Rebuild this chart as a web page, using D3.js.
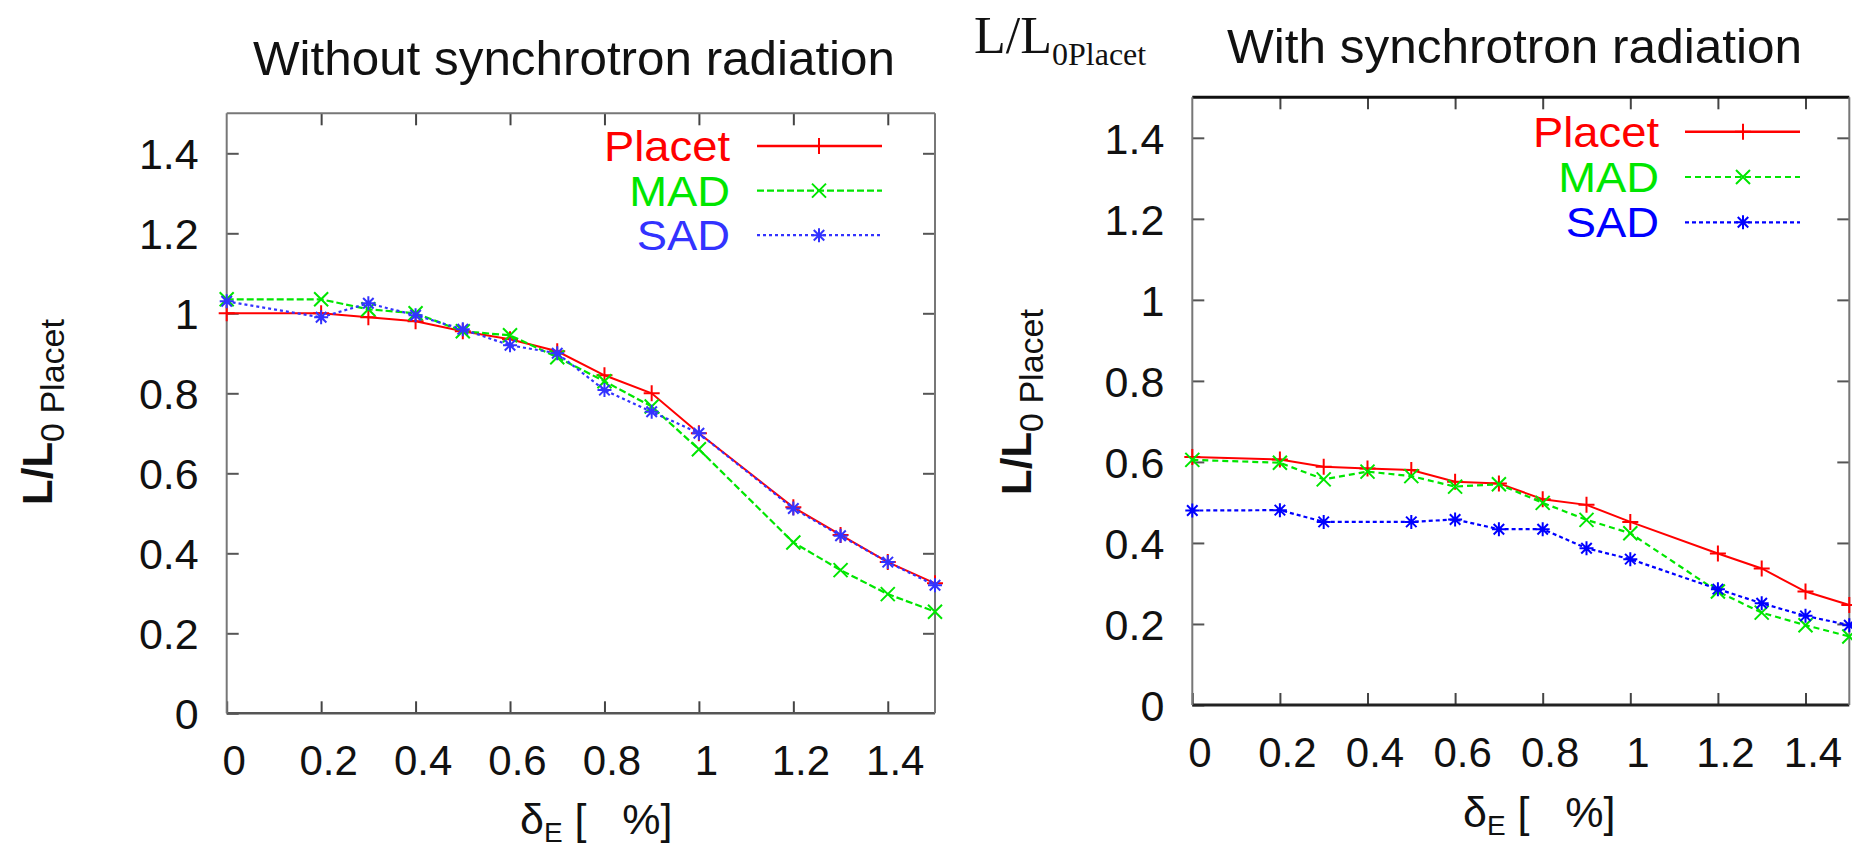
<!DOCTYPE html>
<html>
<head>
<meta charset="utf-8">
<script src="https://cdn.jsdelivr.net/npm/d3@7"></script>
<style>
  body { margin: 0; background: #fff; }
  svg { display: block; font-family: "Liberation Sans", Arial, sans-serif; }
</style>
</head>
<body>
<svg id="chart"></svg>
<script>
/// DATA ///
const deltaE = [0, 0.2, 0.3, 0.4, 0.5, 0.6, 0.7, 0.8, 0.9, 1.0, 1.2, 1.3, 1.4, 1.5];
const seriesNames = ["Placet", "MAD", "SAD"];

// without synchrotron radiation
const noSrPlacet = [1.0, 1.0, 0.99, 0.98, 0.955, 0.935, 0.905, 0.845, 0.80, 0.70, 0.515, 0.446, 0.378, 0.325];
const noSrMad    = [1.035, 1.035, 1.01, 1.0, 0.955, 0.945, 0.89, 0.83, 0.767, 0.66, 0.427, 0.358, 0.298, 0.254];
const noSrSad    = [1.03, 0.99, 1.025, 0.995, 0.96, 0.92, 0.90, 0.808, 0.754, 0.70, 0.512, 0.444, 0.378, 0.32];

// with synchrotron radiation (SAD has no point at 0.4)
const srPlacet = [0.612, 0.606, 0.588, 0.584, 0.58, 0.551, 0.547, 0.508, 0.494, 0.452, 0.374, 0.337, 0.28, 0.247];
const srMad    = [0.605, 0.598, 0.557, 0.576, 0.565, 0.539, 0.545, 0.499, 0.457, 0.424, 0.28, 0.228, 0.197, 0.169];
const srSad    = [0.48, 0.481, 0.452, null, 0.452, 0.458, 0.434, 0.434, 0.387, 0.36, 0.286, 0.251, 0.22, 0.197];

const xTicks = [0, 0.2, 0.4, 0.6, 0.8, 1.0, 1.2, 1.4];
const yTicks = [0, 0.2, 0.4, 0.6, 0.8, 1.0, 1.2, 1.4];

const titles = ["Without synchrotron radiation", "With synchrotron radiation"];

/// LAYOUT ///
const svg = d3.select("#chart").attr("width", 1852).attr("height", 850);

const colors = { Placet: "#ff0000", MAD: "#00e600", SAD: "#0000ff" };
const markers = { Placet: "plus", MAD: "cross", SAD: "star" };

const panels = [
  {
    left: 226.7, right: 935, top: 113.3, bottom: 713.3,
    series: [noSrPlacet, noSrMad, noSrSad],
    title: { x: 253, y: 75, len: 642 },
    legend: { textX: 730, lineX1: 757, lineX2: 882, markX: 819, y0: 146, dy: 44.6 },
    ylab: { x: 52, y: 412 },
    xlab: { x: 520, y: 834 },
    frame: { top: "#777", bottom: "#555", side: "#777", topW: 2, bottomW: 2.5 },
    dash: { MAD: "7,3", SAD: "3,3" }, sadColor: "#3333ff"
  },
  {
    left: 1192.3, right: 1849.3, top: 97.3, bottom: 705,
    series: [srPlacet, srMad, srSad],
    title: { x: 1227, y: 63, len: 575 },
    legend: { textX: 1659, lineX1: 1685, lineX2: 1800, markX: 1743, y0: 131.7, dy: 45.3 },
    ylab: { x: 1031, y: 402 },
    xlab: { x: 1463, y: 827 },
    frame: { top: "#111", bottom: "#222", side: "#777", topW: 3, bottomW: 3 },
    dash: { MAD: "6,4", SAD: "4,3" }, sadColor: "#0000ff"
  }
];

function markerPath(type, s) {
  const plus = `M${-s},0H${s}M0,${-s}V${s}`;
  const cross = `M${-s},${-s}L${s},${s}M${-s},${s}L${s},${-s}`;
  if (type === "plus") return plus;
  if (type === "cross") return cross;
  return plus + cross.replace(/(-?\d+(\.\d+)?)/g, v => (v * 0.75).toFixed(2));
}

const fmt = d => String(+d.toFixed(1));

panels.forEach((p, pi) => {
  const g = svg.append("g");

  // SCALES
  const x = d3.scaleLinear().domain([0, 1.5]).range([p.left, p.right]);
  const y = d3.scaleLinear().domain([0, 1.5]).range([p.bottom, p.top]);

  // TICKS (inward, mirrored on all sides)
  const tickLen = 12;
  g.append("g")
    .attr("transform", `translate(0, ${p.bottom})`)
    .call(d3.axisBottom(x).tickValues(xTicks).tickSizeInner(-tickLen).tickSizeOuter(0).tickFormat(fmt))
    .call(a => a.select(".domain").remove())
    .call(a => a.selectAll("line").attr("stroke", "#444").attr("stroke-width", 2))
    .call(a => a.selectAll("text")
      .attr("y", 62).attr("dy", 0).attr("dx", 7)
      .attr("fill", "#111").style("font-size", "42px"));

  g.append("g")
    .attr("transform", `translate(0, ${p.top})`)
    .call(d3.axisTop(x).tickValues(xTicks.slice(1)).tickSizeInner(-tickLen).tickSizeOuter(0).tickFormat(""))
    .call(a => a.select(".domain").remove())
    .call(a => a.selectAll("line").attr("stroke", "#444").attr("stroke-width", 2));

  g.append("g")
    .attr("transform", `translate(${p.left}, 0)`)
    .call(d3.axisLeft(y).tickValues(yTicks).tickSizeInner(-tickLen).tickSizeOuter(0).tickFormat(fmt))
    .call(a => a.select(".domain").remove())
    .call(a => a.selectAll("line").attr("stroke", "#555").attr("stroke-width", 2))
    .call(a => a.selectAll("text")
      .attr("x", -28).attr("dy", "0.36em")
      .attr("fill", "#111").style("font-size", "43px"));

  g.append("g")
    .attr("transform", `translate(${p.right}, 0)`)
    .call(d3.axisRight(y).tickValues(yTicks.slice(1)).tickSizeInner(-tickLen).tickSizeOuter(0).tickFormat(""))
    .call(a => a.select(".domain").remove())
    .call(a => a.selectAll("line").attr("stroke", "#555").attr("stroke-width", 2));

  // FRAME
  const f = p.frame;
  g.append("line").attr("x1", p.left).attr("x2", p.right).attr("y1", p.top).attr("y2", p.top)
    .attr("stroke", f.top).attr("stroke-width", f.topW);
  g.append("line").attr("x1", p.left).attr("x2", p.right).attr("y1", p.bottom).attr("y2", p.bottom)
    .attr("stroke", f.bottom).attr("stroke-width", f.bottomW);
  g.append("line").attr("x1", p.left).attr("x2", p.left).attr("y1", p.top).attr("y2", p.bottom)
    .attr("stroke", f.side).attr("stroke-width", 2);
  g.append("line").attr("x1", p.right).attr("x2", p.right).attr("y1", p.top).attr("y2", p.bottom)
    .attr("stroke", f.side).attr("stroke-width", 2);

  // LINES + MARKERS
  const line = d3.line().x(d => x(d.x)).y(d => y(d.v));
  seriesNames.forEach((name, si) => {
    const pts = deltaE.map((xv, i) => ({ x: xv, v: p.series[si][i] })).filter(d => d.v != null);
    const col = name === "SAD" ? p.sadColor : colors[name];
    g.append("path")
      .datum(pts)
      .attr("d", line)
      .attr("fill", "none")
      .attr("stroke", col)
      .attr("stroke-width", name === "Placet" ? 2 : 2.2)
      .attr("stroke-dasharray", p.dash[name] || null);
    g.selectAll(null)
      .data(pts)
      .enter()
      .append("path")
      .attr("transform", d => `translate(${x(d.x)}, ${y(d.v)})`)
      .attr("d", markerPath(markers[name], name === "Placet" ? 8 : 7))
      .attr("fill", "none")
      .attr("stroke", col)
      .attr("stroke-width", 2);

    // LEGEND (slightly widened glyphs, as in the original)
    const L = p.legend;
    const ly = L.y0 + si * L.dy;
    const lt = g.append("text")
      .attr("x", L.textX).attr("y", ly + 15)
      .attr("text-anchor", "end")
      .attr("fill", col)
      .style("font-size", "42px")
      .text(name);
    lt.attr("textLength", lt.node().getComputedTextLength() * 1.08)
      .attr("lengthAdjust", "spacingAndGlyphs");
    g.append("line")
      .attr("x1", L.lineX1).attr("x2", L.lineX2).attr("y1", ly).attr("y2", ly)
      .attr("stroke", col).attr("stroke-width", name === "Placet" ? 2.5 : 2.2)
      .attr("stroke-dasharray", p.dash[name] || null);
    g.append("path")
      .attr("transform", `translate(${L.markX}, ${ly})`)
      .attr("d", markerPath(markers[name], name === "Placet" ? 8 : 7))
      .attr("fill", "none").attr("stroke", col).attr("stroke-width", 2);
  });

  // TITLE
  g.append("text")
    .attr("x", p.title.x).attr("y", p.title.y)
    .attr("textLength", p.title.len).attr("lengthAdjust", "spacingAndGlyphs")
    .attr("fill", "#111")
    .style("font-size", "48px")
    .text(titles[pi]);

  // Y LABEL
  const yl = g.append("text")
    .attr("transform", `translate(${p.ylab.x}, ${p.ylab.y}) rotate(-90)`)
    .attr("text-anchor", "middle")
    .attr("fill", "#111")
    .style("font-size", "42px")
    .style("font-weight", "bold");
  yl.append("tspan").text("L/L");
  yl.append("tspan").attr("dy", 12).style("font-size", "34px").style("font-weight", "normal").text("0 Placet");

  // X LABEL
  const xl = g.append("text")
    .attr("x", p.xlab.x).attr("y", p.xlab.y)
    .attr("fill", "#111")
    .style("font-size", "43px");
  xl.append("tspan").text("δ");
  xl.append("tspan").attr("dy", 8).style("font-size", "28px").text("E");
  xl.append("tspan").attr("dy", -8).attr("xml:space", "preserve").text(" [   %]");
});

// serif label above the right panel
const topLab = svg.append("text")
  .attr("x", 974).attr("y", 53)
  .attr("fill", "#111")
  .style("font-family", "'Liberation Serif', 'Times New Roman', serif")
  .style("font-size", "52px");
topLab.append("tspan").text("L/L");
topLab.append("tspan").attr("dy", 12).style("font-size", "32px").text("0Placet");
</script>
</body>
</html>
